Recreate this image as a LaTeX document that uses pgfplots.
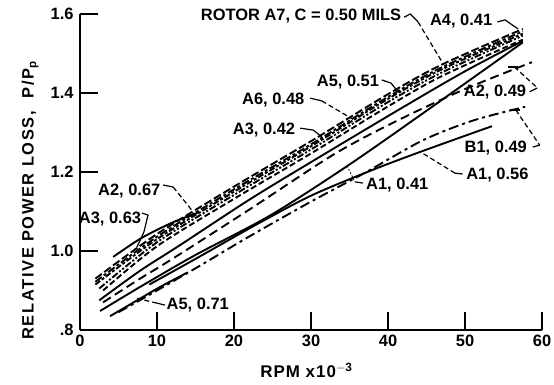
\documentclass[border=0pt]{standalone}
\usepackage{fontspec}
\setmainfont{Liberation Sans}
\usepackage{pgfplots}
\pgfplotsset{compat=1.18}
\tikzset{
  lbl/.style={font=\bfseries\fontsize{16.5}{18}\selectfont, inner sep=0pt},
  lead/.style={line width=1.2bp},
  leaddash/.style={line width=1.2bp, dash pattern=on 5bp off 3bp},
}
\begin{document}
\begin{tikzpicture}
\begin{axis}[
  scale only axis, width=462bp, height=316bp,
  xmin=0, xmax=60, ymin=0.8, ymax=1.6,
  axis lines=left,
  axis line style={-, line width=1.8bp},
  xtick={0,10,20,30,40,50,60},
  xticklabels={0,10,20,30,40,50,60},
  ytick={0.8,1.0,1.2,1.4,1.6},
  yticklabels={.8,1.0,1.2,1.4,1.6},
  tick align=inside,
  major tick length=18bp,
  tick style={line width=1.8bp, black},
  every tick label/.append style={font=\bfseries\fontsize{16.5}{18}\selectfont},
  xticklabel style={yshift=-2bp},
  yticklabel style={xshift=-3bp},
  xlabel={RPM x10$^{\mathbf{-3}}$},
  ylabel={RELATIVE POWER LOSS,\ \ P/P$_{\mathbf{p}}$},
  xlabel style={at={(rel axis cs:0.49,-0.127)}, anchor=center,
    font=\bfseries\fontsize{17}{18}\selectfont\addfontfeatures{LetterSpace=6}},
  ylabel style={at={(rel axis cs:-0.108,0.41)}, anchor=center,
    font=\bfseries\fontsize{16.5}{18}\selectfont\addfontfeatures{LetterSpace=10}},
  clip=false,
  cycle list={{black}},
  every axis plot/.append style={black, line width=1.9bp, no marks, smooth},
]
% upper family of rotors
\addplot[dash pattern=on 8bp off 3bp] coordinates {(2,0.93) (10,1.043) (20,1.163) (30,1.278) (40,1.397) (47,1.472) (57.5,1.562)};
\addplot[dash pattern=on 8bp off 2.5bp on 3bp off 2.5bp] coordinates {(2,0.922) (10,1.036) (20,1.156) (30,1.27) (40,1.39) (47,1.465) (57.5,1.556)};
\addplot[dash pattern=on 6bp off 2bp on 3bp off 2bp] coordinates {(2,0.915) (10,1.03) (20,1.15) (30,1.265) (40,1.385) (47,1.46) (57.5,1.55)};
\addplot[dash pattern=on 7bp off 2bp on 2bp off 2bp on 2bp off 2bp] coordinates {(2.5,0.905) (10,1.022) (20,1.142) (30,1.257) (40,1.377) (47,1.452) (57.5,1.545)};
\addplot[dash pattern=on 6bp off 3bp] coordinates {(3,0.9) (10,1.012) (20,1.132) (30,1.247) (40,1.366) (47,1.443) (57.5,1.535)};
% A2, 0.67
\addplot[solid] coordinates {(4.3,0.985) (8,1.033) (12,1.072) (15.3,1.097)};
% solid line under the upper family
\addplot[solid] coordinates {(2.5,0.875) (7.8,0.95) (13,1.015) (22,1.13) (30,1.225) (41.6,1.36) (50,1.455) (57.5,1.532)};
% A2, 0.49
\addplot[dash pattern=on 9bp off 5bp] coordinates {(3,0.87) (7.8,0.93) (12,0.98) (22,1.105) (33,1.245) (41.2,1.33) (50,1.41) (58.7,1.478)};
% A1, 0.41
\addplot[solid] coordinates {(2.6,0.848) (7.8,0.909) (15,0.99) (24.7,1.09) (34.7,1.215) (45,1.355) (57.5,1.528)};
% A1, 0.56
\addplot[solid] coordinates {(9,0.915) (15,0.98) (23,1.068) (30,1.14) (37.7,1.203) (44.2,1.251) (53.5,1.316)};
% B1, 0.49
\addplot[dash pattern=on 10bp off 4bp on 3bp off 4bp] coordinates {(5,0.845) (10,0.9) (15.6,0.963) (22,1.037) (30,1.125) (37,1.198) (44.5,1.28) (51,1.33) (57.8,1.365)};
% A5, 0.71
\addplot[solid] coordinates {(3.9,0.835) (7.5,0.876) (10.5,0.91) (14,0.946)};

% labels and leaders
\node[lbl] at (axis cs:28.7,1.595) {ROTOR A7,\ C = 0.50 MILS};
\draw[lead] (axis cs:42.1,1.592) -- (axis cs:42.9,1.6) -- (axis cs:43.9,1.58);
\draw[leaddash] (axis cs:43.9,1.58) -- (axis cs:47.1,1.476);
\node[lbl] at (axis cs:49.5,1.582) {A4, 0.41};
\draw[lead] (axis cs:54.2,1.58) -- (axis cs:55.2,1.585) -- (axis cs:56.9,1.562);
\node[lbl] at (axis cs:34.8,1.428) {A5, 0.51};
\draw[lead] (axis cs:39.2,1.433) -- (axis cs:40.4,1.425) -- (axis cs:41.3,1.403);
\node[lbl] at (axis cs:25.1,1.382) {A6, 0.48};
\draw[lead] (axis cs:29.9,1.387) -- (axis cs:31.4,1.38);
\draw[leaddash] (axis cs:31.4,1.38) -- (axis cs:35.3,1.335);
\node[lbl] at (axis cs:23.9,1.306) {A3, 0.42};
\draw[lead] (axis cs:28.6,1.311) -- (axis cs:30.3,1.306) -- (axis cs:31.4,1.289);
\node[lbl] at (axis cs:6.4,1.152) {A2, 0.67};
\draw[lead] (axis cs:10.8,1.167) -- (axis cs:12.1,1.162);
\draw[leaddash] (axis cs:12.1,1.162) -- (axis cs:14.7,1.099);
\node[lbl] at (axis cs:3.9,1.081) {A3, 0.63};
\draw[lead] (axis cs:8.05,1.096) -- (axis cs:8.83,1.091) -- (axis cs:8.3,1.048) -- (axis cs:7.4,1.01);
\node[lbl] at (axis cs:15.3,0.863) {A5, 0.71};
\draw[lead] (axis cs:11.04,0.863) -- (axis cs:10.0,0.868);
\draw[leaddash] (axis cs:10.0,0.868) -- (axis cs:7.4,0.88);
\node[lbl] at (axis cs:53.9,1.403) {A2, 0.49};
\draw[lead] (axis cs:55.6,1.466) -- (axis cs:56.9,1.466);
\draw[leaddash] (axis cs:56.4,1.466) -- (axis cs:59.4,1.413);
\draw[lead] (axis cs:59.4,1.413) -- (axis cs:58.4,1.403);
\node[lbl] at (axis cs:54.0,1.261) {B1, 0.49};
\draw[lead] (axis cs:55.8,1.357) -- (axis cs:57.1,1.357);
\draw[leaddash] (axis cs:56.6,1.357) -- (axis cs:59.7,1.268);
\draw[lead] (axis cs:59.7,1.268) -- (axis cs:58.8,1.263);
\node[lbl] at (axis cs:54.2,1.192) {A1, 0.56};
\draw[lead] (axis cs:49.7,1.195) -- (axis cs:48.7,1.197);
\draw[leaddash] (axis cs:48.7,1.197) -- (axis cs:44.2,1.251);
\node[lbl] at (axis cs:41.2,1.167) {A1, 0.41};
\draw[line width=0.9bp, dash pattern=on 1.5bp off 2bp] (axis cs:34.7,1.215) -- (axis cs:35.7,1.175);
\draw[lead] (axis cs:35.7,1.175) -- (axis cs:36.75,1.172);
\end{axis}
\pgfresetboundingbox
\path ([shift={(-80bp,-55bp)}]current axis.south west) rectangle ([shift={(12bp,14bp)}]current axis.north east);
\end{tikzpicture}
\end{document}
